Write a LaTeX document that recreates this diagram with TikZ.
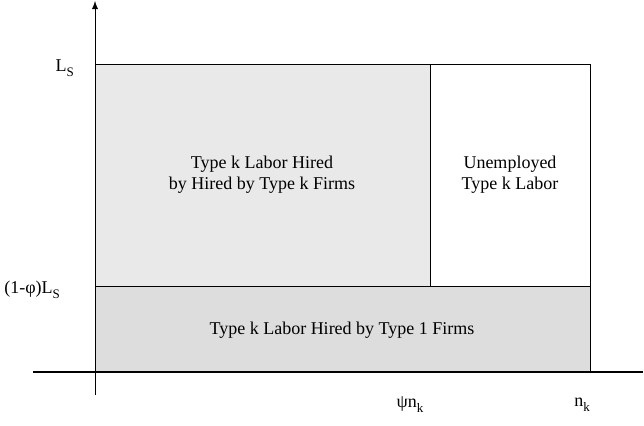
\documentclass[tikz,border=0pt]{standalone}
\usepackage{fontspec}
\setmainfont{Liberation Serif}
\usepackage{tikz}
\usetikzlibrary{positioning,arrows}
\definecolor{hiredk}{gray}{0.915}
\definecolor{hiredone}{gray}{0.867}
\newcommand{\lowsub}[1]{\raisebox{-0.28em}{\fontsize{6.5}{7}\selectfont #1}}
\begin{document}
\begin{tikzpicture}[x=0.5pt,y=0.5pt,every node/.style={font=\fontsize{9}{10.5}\selectfont}]
			\useasboundingbox (0,0) rectangle (644,425);
			%corner points
			\coordinate (o) at (95,53);
			\coordinate (top) at (95,424);
			\coordinate (bot) at (95,30);
			\coordinate (xl) at (33,53);
			\coordinate (xr) at (643,53);
			\coordinate (tl) at (95,361);
			\coordinate (tr) at (590,361);
			\coordinate (br) at (590,53);
			\coordinate (ml) at (95,139);
			\coordinate (mr) at (590,139);
			\coordinate (dt) at (430,361);
			\coordinate (db) at (430,139);

			%regions
			\fill[hiredk] (ml) rectangle (dt);
			\fill[hiredone] (o) rectangle (mr);
			\draw (tl) -- (tr) -- (br);
			\draw (ml) -- (mr);
			\draw (dt) -- (db);

			%axes
			\draw[line width=1pt] (xl) -- (xr);
			\draw[-latex] (bot) -- (top);

			%texts
			\node (hk) at (262,250) [align=center] {Type k Labor Hired\\by Hired by Type k Firms};
			\node (un) at (510,250) [align=center] {Unemployed\\Type k Labor};
			\node (h1) at (342,95) {Type k Labor Hired by Type 1 Firms};
			\node [anchor=east] (ls) at (81,357) {L\lowsub{S}};
			\node [anchor=east] (ps) at (67,135) {(1-φ)L\lowsub{S}};
			\node (psi) at (410,20) {ψn\lowsub{k}};
			\node (nk) at (582,20) {n\lowsub{k}};
		\end{tikzpicture}
\end{document}
